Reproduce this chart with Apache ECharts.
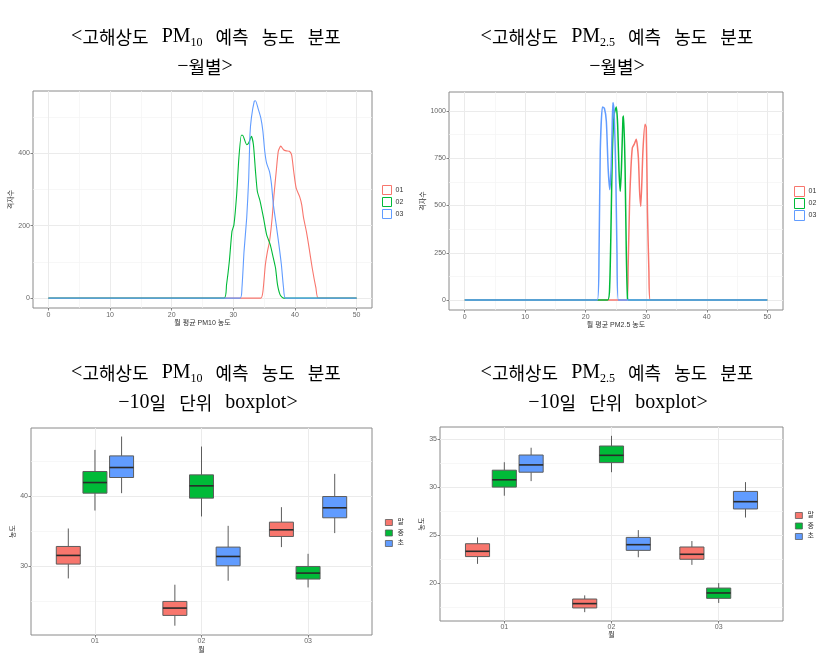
<!DOCTYPE html>
<html><head><meta charset="utf-8">
<script src="https://cdn.jsdelivr.net/npm/echarts@6/dist/echarts.min.js"></script>
<style>html,body{margin:0;padding:0;background:#fff}#c{width:827px;height:657px}</style>
</head><body><div id="c"></div>
<script>
// ---------- data ----------
const months = ['01', '02', '03'];
const periods = ['말', '중', '초'];
const colors = ['#F8766D', '#00BA38', '#619CFF'];

// PM10 monthly distribution (x = concentration, y = grid count)
const pm10_m01 = [[0,0],[34.46,0],[34.8,18],[35.2,92],[35.54,129],[35.87,156],[36.3,221],[36.6,285],[36.96,349],[37.3,405],[37.7,419],[38.15,409],[38.6,406],[39.1,405],[39.46,395],[39.8,349],[40.2,303],[40.76,280],[41.1,257],[41.4,221],[41.85,184],[42.3,138],[42.8,83],[43.4,28],[43.8,0],[50,0]];
const pm10_m02 = [[0,0],[28.5,0],[28.9,37],[29.35,101],[29.78,184],[30.1,202],[30.54,285],[30.9,386],[31.3,449],[31.5,449],[32.17,423],[32.5,428],[32.93,446],[33.26,423],[33.6,349],[33.9,294],[34.35,267],[34.9,221],[35.4,175],[36.0,147],[36.5,110],[36.85,83],[37.17,37],[37.6,9],[38.15,0],[50,0]];
const pm10_m03 = [[0,0],[31.1,0],[31.4,28],[31.74,129],[32.17,221],[32.5,331],[32.7,451],[32.93,497],[33.4,543],[33.6,544],[34.0,524],[34.46,497],[34.8,460],[35.1,405],[35.4,372],[35.87,349],[36.2,313],[36.5,257],[36.96,202],[37.4,147],[37.8,92],[38.15,28],[38.5,0],[50,0]];

// PM2.5 monthly distribution
const pm25_m01 = [[0,0],[26.8,0],[27.0,168],[27.25,522],[27.47,699],[27.7,805],[28.0,823],[28.35,850],[28.7,752],[28.9,575],[29.1,496],[29.45,788],[29.8,929],[30.0,912],[30.2,469],[30.44,150],[30.66,0],[50,0]];
const pm25_m02 = [[0,0],[23.6,0],[23.96,80],[24.2,434],[24.4,788],[24.7,982],[25.05,1021],[25.27,929],[25.5,681],[25.7,575],[25.9,699],[26.15,965],[26.26,973],[26.5,699],[26.7,257],[26.9,9],[27.1,0],[50,0]];
const pm25_m03 = [[0,0],[21.92,0],[22.2,257],[22.4,788],[22.75,1021],[23.08,1014],[23.4,947],[23.7,699],[23.96,584],[24.2,699],[24.4,965],[24.5,1044],[24.7,982],[24.95,699],[25.16,257],[25.4,0],[50,0]];

// boxplots: [low, q1, median, q3, high] per month 01,02,03
const box10_mal  = [[28.29,30.34,31.58,32.86,35.43],[21.53,23.0,24.05,25.0,27.39],[32.77,34.29,35.24,36.34,38.48]];
const box10_jung = [[38.0,40.48,42.0,43.58,46.67],[37.15,39.77,41.53,43.1,47.15],[27.0,28.2,29.05,30.0,31.81]];
const box10_cho  = [[40.48,42.72,44.15,45.81,48.58],[27.96,30.1,31.43,32.77,35.81],[34.77,36.96,38.39,40.0,43.24]];
const box25_mal  = [[22.0,22.76,23.31,24.1,24.76],[16.97,17.41,17.86,18.34,18.72],[21.9,22.48,23.0,23.76,24.38]];
const box25_jung = [[29.1,30.0,30.76,31.76,32.59],[31.55,32.55,33.31,34.28,35.34],[17.93,18.41,18.97,19.48,20.0]];
const box25_cho  = [[30.62,31.55,32.31,33.34,34.1],[22.69,23.41,24.0,24.76,25.52],[26.83,27.72,28.48,29.55,30.52]];

// tick labels
const concTicks = [0, 10, 20, 30, 40, 50];
const concMinor = [5, 15, 25, 35, 45];
const cnt10Ticks = [0, 200, 400];
const cnt10Minor = [100, 300, 500];
const cnt25Ticks = [0, 250, 500, 750, 1000];
const cnt25Minor = [125, 375, 625, 875];
const monthTicks = [1, 2, 3];
const conc10Ticks = [30, 40];
const conc10Minor = [25, 35, 45];
const conc25Ticks = [20, 25, 30, 35];
const conc25Minor = [17.5, 22.5, 27.5, 32.5];

// ---------- styling helpers ----------
const SANS = "'Liberation Sans','Noto Sans CJK KR',sans-serif";
const SERIF = "'Liberation Serif','Noto Sans CJK KR',serif";
const AX_TXT = {fontSize: 7, color: '#666', fontFamily: SANS};
const plain = v => String(v);

function mainAxis(o) {
  const a = {
    type: 'value', gridIndex: o.grid, min: o.min, max: o.max,
    name: o.name, nameLocation: 'middle', nameGap: o.nameGap,
    nameTextStyle: {fontSize: 7, color: '#333', fontFamily: SANS},
    axisLine: {show: false, onZero: false},
    axisTick: {show: true, length: 2.5, customValues: o.ticks, lineStyle: {color: '#666', width: 0.8}},
    axisLabel: Object.assign({customValues: o.ticks, margin: o.margin, formatter: o.fmt || plain}, AX_TXT),
    splitLine: {show: true, lineStyle: {color: '#ebebeb', width: 1}},
    minorTick: {show: false}, minorSplitLine: {show: false}
  };
  if (o.position) a.position = o.position;
  return a;
}
function minorAxis(o) {
  return {
    type: 'value', gridIndex: o.grid, min: o.min, max: o.max, position: o.position,
    axisLine: {show: false, onZero: false},
    axisTick: {show: false, customValues: o.ticks},
    axisLabel: {show: false, customValues: o.ticks},
    splitLine: {show: true, lineStyle: {color: '#f3f3f3', width: 0.7}}
  };
}

const grids = [
  {left: 33, top: 91, width: 339, height: 217},
  {left: 449, top: 92, width: 334, height: 218},
  {left: 31, top: 428, width: 341, height: 207},
  {left: 440, top: 427, width: 343, height: 194}
].map(g => Object.assign({show: true, borderColor: '#8a8a8a', borderWidth: 1, backgroundColor: 'transparent', containLabel: false}, g));

const xAxis = [
  mainAxis({grid: 0, min: -2.5, max: 52.5, ticks: concTicks, name: '월 평균 PM10 농도', nameGap: 12, margin: 4}),
  mainAxis({grid: 1, min: -2.6, max: 52.6, ticks: concTicks, name: '월 평균 PM2.5 농도', nameGap: 11, margin: 4}),
  mainAxis({grid: 2, min: 0.4, max: 3.6, ticks: monthTicks, name: '월', nameGap: 12, margin: 3, fmt: v => months[v - 1]}),
  mainAxis({grid: 3, min: 0.4, max: 3.6, ticks: monthTicks, name: '월', nameGap: 11, margin: 3, fmt: v => months[v - 1]}),
  minorAxis({grid: 0, min: -2.5, max: 52.5, ticks: concMinor, position: 'bottom'}),
  minorAxis({grid: 1, min: -2.6, max: 52.6, ticks: concMinor, position: 'bottom'})
];
const yAxis = [
  mainAxis({grid: 0, min: -27.2, max: 571, ticks: cnt10Ticks, name: '격자수', nameGap: 14, margin: 3, position: 'left'}),
  mainAxis({grid: 1, min: -52.4, max: 1100, ticks: cnt25Ticks, name: '격자수', nameGap: 22, margin: 3, position: 'left'}),
  mainAxis({grid: 2, min: 20.2, max: 49.8, ticks: conc10Ticks, name: '농도', nameGap: 12, margin: 3, position: 'left'}),
  mainAxis({grid: 3, min: 16.05, max: 36.26, ticks: conc25Ticks, name: '농도', nameGap: 12, margin: 3, position: 'left'}),
  minorAxis({grid: 0, min: -27.2, max: 571, ticks: cnt10Minor, position: 'left'}),
  minorAxis({grid: 1, min: -52.4, max: 1100, ticks: cnt25Minor, position: 'left'}),
  minorAxis({grid: 2, min: 20.2, max: 49.8, ticks: conc10Minor, position: 'left'}),
  minorAxis({grid: 3, min: 16.05, max: 36.26, ticks: conc25Minor, position: 'left'})
];

function lineSeries(name, data, idx, color, width) {
  return {
    type: 'line', name, data, xAxisIndex: idx, yAxisIndex: idx,
    showSymbol: false, symbol: 'none', smooth: 0.2, clip: true, silent: true,
    lineStyle: {color, width}, itemStyle: {color}, z: 3
  };
}

const BOX_W = 0.225;
function boxSeries(name, stats, idx, color, offset) {
  return {
    type: 'custom', name, xAxisIndex: idx, yAxisIndex: idx, silent: true, z: 3,
    itemStyle: {color},
    encode: {x: 0, y: [1, 2, 3, 4, 5]},
    data: stats.map((s, i) => [i + 1].concat(s)),
    renderItem: function (params, api) {
      const x = api.value(0) + offset;
      const low = api.coord([x, api.value(1)]);
      const q1 = api.coord([x, api.value(2)]);
      const med = api.coord([x, api.value(3)]);
      const q3 = api.coord([x, api.value(4)]);
      const high = api.coord([x, api.value(5)]);
      const w = api.size([BOX_W, 0])[0];
      const edge = '#5c5c5c';
      return {
        type: 'group', children: [
          {type: 'line', shape: {x1: low[0], y1: low[1], x2: q1[0], y2: q1[1]}, style: {stroke: edge, lineWidth: 1}},
          {type: 'line', shape: {x1: q3[0], y1: q3[1], x2: high[0], y2: high[1]}, style: {stroke: edge, lineWidth: 1}},
          {type: 'rect', shape: {x: q3[0] - w / 2, y: q3[1], width: w, height: q1[1] - q3[1]}, style: {fill: color, stroke: edge, lineWidth: 1}},
          {type: 'line', shape: {x1: med[0] - w / 2, y1: med[1], x2: med[0] + w / 2, y2: med[1]}, style: {stroke: '#2a2a2a', lineWidth: 1.6}}
        ]
      };
    }
  };
}

const series = [
  lineSeries(months[0], pm10_m01, 0, colors[0], 1.1),
  lineSeries(months[1], pm10_m02, 0, colors[1], 1.1),
  lineSeries(months[2], pm10_m03, 0, colors[2], 1.1),
  lineSeries(months[0], pm25_m01, 1, colors[0], 1.5),
  lineSeries(months[1], pm25_m02, 1, colors[1], 1.5),
  lineSeries(months[2], pm25_m03, 1, colors[2], 1.5),
  boxSeries(periods[0], box10_mal, 2, colors[0], -0.25),
  boxSeries(periods[1], box10_jung, 2, colors[1], 0),
  boxSeries(periods[2], box10_cho, 2, colors[2], 0.25),
  boxSeries(periods[0], box25_mal, 3, colors[0], -0.25),
  boxSeries(periods[1], box25_jung, 3, colors[1], 0),
  boxSeries(periods[2], box25_cho, 3, colors[2], 0.25)
];

function outlineLegend(left, top, size, gap) {
  return {
    orient: 'vertical', left, top, itemWidth: size, itemHeight: size, itemGap: gap,
    selectedMode: false, padding: 0,
    textStyle: {fontSize: 7, color: '#333', fontFamily: SANS, padding: [0, 0, 0, -1]},
    data: months.map((m, i) => ({name: m, icon: 'rect', itemStyle: {color: '#fff', borderColor: colors[i], borderWidth: 1}}))
  };
}
function fillLegend(left, top) {
  return {
    orient: 'vertical', left, top, itemWidth: 7, itemHeight: 6, itemGap: 3.5,
    selectedMode: false, padding: 0,
    textStyle: {fontSize: 7, color: '#333', fontFamily: SANS},
    data: periods.map((p, i) => ({name: p, icon: 'rect', itemStyle: {color: colors[i], borderColor: '#5c5c5c', borderWidth: 0.8}}))
  };
}
const legend = [
  outlineLegend(382, 185, 9, 2),
  outlineLegend(794, 186, 10, 1),
  fillLegend(385, 519),
  fillLegend(795, 512)
];

// ---------- titles ----------
const RICH = {
  k: {fontFamily: "'Noto Sans CJK KR',sans-serif", fontSize: 18, lineHeight: 24, color: '#111'},
  l: {fontFamily: SERIF, fontSize: 20, lineHeight: 24, color: '#111'},
  s: {fontFamily: SERIF, fontSize: 12, lineHeight: 14, verticalAlign: 'bottom', color: '#111'},
  sp: {width: 13, fontSize: 18, lineHeight: 24}
};
function titleText(x, y, text) {
  return {type: 'text', x, y, silent: true, style: {text, rich: RICH, align: 'center', verticalAlign: 'middle'}};
}
const head10 = '{l|<}{k|고해상도}{sp| }{l|PM}{s|10}{sp| }{k|예측}{sp| }{k|농도}{sp| }{k|분포}';
const head25 = '{l|<}{k|고해상도}{sp| }{l|PM}{s|2.5}{sp| }{k|예측}{sp| }{k|농도}{sp| }{k|분포}';
const subMonth = '{l|−}{k|월별}{l|>}';
const subBox = '{l|−10}{k|일}{sp| }{k|단위}{sp| }{l|boxplot>}';

const graphic = [
  titleText(206, 37, head10), titleText(205, 67, subMonth),
  titleText(617, 37, head25), titleText(617, 67, subMonth),
  titleText(206, 373, head10), titleText(208, 403, subBox),
  titleText(617, 373, head25), titleText(618, 403, subBox)
];

const chart = echarts.init(document.getElementById('c'), null, {renderer: 'canvas', width: 827, height: 657});
chart.setOption({
  backgroundColor: '#fff',
  animation: false,
  grid: grids, xAxis, yAxis, series, legend, graphic
});
</script></body></html>
